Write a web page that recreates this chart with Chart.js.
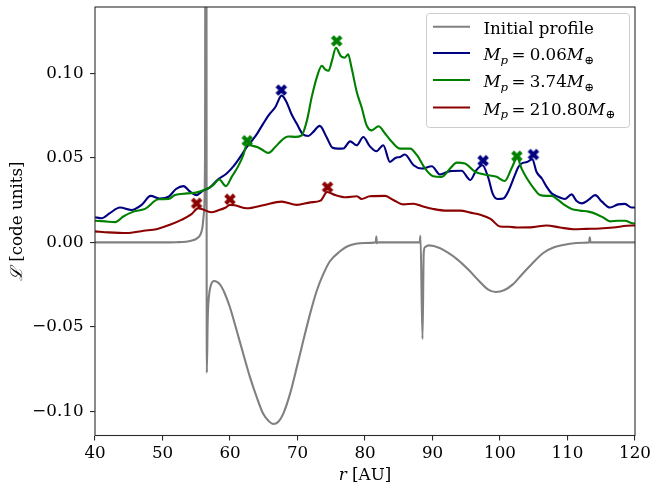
<!DOCTYPE html>
<html>
<head>
<meta charset="utf-8">
<script src="https://cdn.jsdelivr.net/npm/chart.js@4.4.1/dist/chart.umd.min.js"></script>
<style>
  html, body { margin: 0; padding: 0; background: #ffffff; }
  #wrap { width: 652px; height: 489px; }
</style>
</head>
<body>
<div id="wrap"><canvas id="chartL" width="652" height="489"></canvas></div>
<script>
// =========================
// DATA
// =========================
const xTicks = [40, 50, 60, 70, 80, 90, 100, 110, 120];
const yTicks = [-0.10, -0.05, 0.00, 0.05, 0.10];

// initial profile
const initR = [40, 50, 52, 53.5, 54.5, 55.1, 55.6, 55.9, 56.15, 56.3, 56.4, 56.48, 56.56, 56.7, 56.86,
  57.13, 57.66, 58.5, 59.2, 60.0, 61.0, 61.97, 62.96, 63.95, 64.9, 65.7, 66.4, 67.16, 67.9,
  68.9, 69.9, 70.86, 71.85, 72.84, 73.8, 74.8, 76.3, 77.5, 79.93, 81.6, 81.68, 81.76, 82, 88.1, 88.22,
  88.52, 88.7, 88.9, 89.47, 91.06, 92.12, 93.71, 95.3, 96.9, 98.2, 99.4, 100.6, 101.9, 103.25,
  104.85, 106.4, 108, 110.1, 112.3, 113.2, 113.3, 113.4, 120];
const initL = [0, 0, 0.0001, 0.0004, 0.0012, 0.0024, 0.0045, 0.0084, 0.018, 0.05, 0.4, 0.4, -0.0773, -0.045, -0.0327,
  -0.0259, -0.0229, -0.0249, -0.030, -0.0386, -0.0524, -0.0661, -0.0798, -0.0916, -0.1014, -0.1057, -0.1076, -0.1063, -0.1014,
  -0.0896, -0.0739, -0.0582, -0.0425, -0.0288, -0.019, -0.0112, -0.0053, -0.0022, -0.0004, 0, 0.0035, -0.0005, 0, 0, 0.0039,
  -0.0573, -0.006, -0.0028, -0.0018, -0.0033, -0.0057, -0.0102, -0.0161, -0.0229, -0.0278, -0.0294, -0.0284, -0.0249, -0.019,
  -0.0122, -0.0063, -0.0029, -0.001, -0.0002, 0, 0.003, 0, 0];

// M_p = 0.06
const lowR = [40, 41, 42.2, 43.7, 45.4, 46.9, 48.25, 49.6, 50.9, 52, 53.1, 54.1, 55, 56, 57, 58.2, 59.5,
  60.5, 61.5, 62.5, 63.2, 64, 64.9, 65.8, 66.7, 67.65, 68.4, 69.1, 69.9, 70.8, 71.6, 72.3, 73.3, 74.3,
  75.2, 76, 76.8, 77.8, 78.75, 79.75, 80.7, 81.7, 82.7, 83.7, 84.5, 85.2, 85.9, 87.2, 88.4, 89.9,
  91.1, 92.6, 94.3, 95.6, 96.5, 97.4, 98.3, 98.9, 99.6, 100.5, 101.2, 102.2, 102.7,
  103.2, 104, 104.8, 105.4, 106.2, 106.9, 107.65, 108.6, 109.6, 110.6, 111.35, 112.1, 113.1, 114.1,
  115.1, 116.3, 117.5, 118.5, 119.5, 120];
const lowL = [0.0149, 0.0143, 0.0173, 0.0206, 0.0192, 0.0222, 0.0275, 0.026, 0.027, 0.0316, 0.0333, 0.030, 0.028, 0.0306, 0.0324, 0.0372, 0.0408,
  0.0450, 0.0505, 0.0565, 0.0600, 0.0643, 0.0702, 0.0757, 0.080, 0.0869, 0.0829, 0.076, 0.0702, 0.0640, 0.0630, 0.0653, 0.0690, 0.0624,
  0.0560, 0.0555, 0.0556, 0.0598, 0.0575, 0.0624, 0.0570, 0.054, 0.0575, 0.0476, 0.0500, 0.0506, 0.052, 0.0457, 0.0437, 0.0451,
  0.0402, 0.0422, 0.0424, 0.0369, 0.0428, 0.0457, 0.0378, 0.029, 0.0257, 0.026, 0.030, 0.0398, 0.0445,
  0.0467, 0.0476, 0.0492, 0.0418, 0.0378, 0.033, 0.029, 0.027, 0.0257, 0.0284, 0.0245, 0.0231, 0.0251, 0.028,
  0.0241, 0.0206, 0.0225, 0.0228, 0.0206, 0.0206];

// M_p = 3.74
const midR = [40, 41.5, 43, 44.2, 45.7, 47.4, 49.4, 50.9, 51.85, 53.6, 55.1, 56.5, 57.5, 58.4, 59.4, 60.25,
  61.2, 62, 62.5, 63.3, 64, 64.7, 65.7, 66.7, 67.65, 68.6, 69.6, 70.6, 71.4, 72.1, 72.85, 73.6, 74.1,
  74.6, 75.1, 75.7, 76.4, 77, 77.5, 78, 78.8, 79.5, 80.25, 81, 82, 83, 84, 85.2, 86.7, 87.7,
  88.9, 90.1, 91.35, 92.6, 93.6, 94.8, 96.3, 98.3, 99.5, 100.7, 101.7, 102.55, 103.2,
  104, 105, 105.9, 106.9, 107.65, 108.6, 109.6, 110.6, 111.85, 113.1, 114.3, 115.3, 116.3, 117.5,
  118.5, 119.5, 120];
const midL = [0.0128, 0.0124, 0.012, 0.0153, 0.0182, 0.0198, 0.0255, 0.0257, 0.028, 0.029, 0.0296, 0.0316, 0.0339, 0.0372, 0.0333, 0.0388,
  0.0450, 0.0520, 0.0580, 0.0572, 0.0565, 0.055, 0.053, 0.0565, 0.0604, 0.0627, 0.0625, 0.0633, 0.0722, 0.0859, 0.0976, 0.1045, 0.1025,
  0.1016, 0.1075, 0.1153, 0.1104, 0.1094, 0.1114, 0.1035, 0.0888, 0.080, 0.0692, 0.0663, 0.0688, 0.0643, 0.0594, 0.0555, 0.0555, 0.0516,
  0.0437, 0.0392, 0.0388, 0.0437, 0.0472, 0.0467, 0.0418, 0.0398, 0.0388, 0.0363, 0.0437, 0.0500, 0.0437,
  0.0378, 0.032, 0.028, 0.0275, 0.0275, 0.0251, 0.022, 0.0198, 0.0188, 0.0182, 0.0167, 0.0147, 0.0124, 0.0128,
  0.0128, 0.0114, 0.011];

// M_p = 210.80
const highR = [40, 42, 44.7, 47.2, 49.1, 51.1, 52.8, 54.3, 55.3, 55.8, 57.2, 58.3, 59.3, 60, 60.7, 62.5,
  64.9, 67.65, 69.9, 71.9, 73.4, 74.4, 75.6, 77.15, 78.8, 79.5, 80.7, 83, 84.2, 85.7, 87.2, 88.6, 90.1,
  92.1, 94.1, 95.6, 97.1, 98.6, 100, 101.3, 102.5, 104.9, 106.9, 108.9, 110.9, 112.8, 114.8, 116.8,
  118.8, 120];
const highL = [0.0065, 0.0059, 0.0055, 0.0069, 0.0078, 0.0104, 0.0133, 0.0167, 0.0203, 0.0198, 0.0178, 0.019, 0.0205, 0.0222, 0.022, 0.0202,
  0.022, 0.0241, 0.0222, 0.0237, 0.0247, 0.0298, 0.028, 0.0267, 0.0273, 0.0257, 0.0273, 0.0275, 0.0251, 0.0225, 0.0229, 0.0212, 0.0198,
  0.0188, 0.0188, 0.0176, 0.0163, 0.0139, 0.0094, 0.0092, 0.0088, 0.009, 0.010, 0.0088, 0.0078, 0.008, 0.0082, 0.0088,
  0.0098, 0.010];

// peak positions
const lowPeakR = [67.6, 97.5, 104.95];
const lowPeakL = [0.0902, 0.0484, 0.0520];
const midPeakR = [62.55, 75.8, 102.5];
const midPeakL = [0.0602, 0.1193, 0.0510];
const highPeakR = [55.05, 60.0, 74.45];
const highPeakL = [0.0231, 0.0255, 0.0327];

const legendMasses = ["0.06", "3.74", "210.80"];

const GRAY = "#808080";
const BLUE = "#000080";
const GREEN = "#008000";
const RED = "#8b0000";
const FONT = '"DejaVu Serif", "Liberation Serif", serif';

// =========================
// HELPERS
// =========================
function points(xs, ys) {
    return xs.map(function (x, i) { return { x: x, y: ys[i] }; });
}

function lineSet(label, xs, ys, color, order) {
    return {
        label: label,
        data: points(xs, ys),
        showLine: true,
        borderColor: color,
        backgroundColor: color,
        borderWidth: 2.1,
        pointRadius: 0,
        cubicInterpolationMode: "monotone",
        order: order
    };
}

// filled "X" marker
function xMarker(color) {
    const s = 14;
    const c = document.createElement("canvas");
    c.width = s; c.height = s;
    const g = c.getContext("2d");
    g.translate(s / 2, s / 2);
    g.rotate(Math.PI / 4);
    const h = 5.6, w = 1.6;
    g.beginPath();
    g.moveTo(-w, -h); g.lineTo(w, -h); g.lineTo(w, -w); g.lineTo(h, -w);
    g.lineTo(h, w); g.lineTo(w, w); g.lineTo(w, h); g.lineTo(-w, h);
    g.lineTo(-w, w); g.lineTo(-h, w); g.lineTo(-h, -w); g.lineTo(-w, -w);
    g.closePath();
    g.fillStyle = color;
    g.fill();
    g.lineWidth = 1;
    g.strokeStyle = color;
    g.stroke();
    return c;
}

function markerSet(xs, ys, color, order) {
    return {
        data: points(xs, ys),
        showLine: false,
        pointStyle: xMarker(color),
        pointRadius: 6,
        order: order
    };
}

// draws M_p = <mass> M_⊕ as math-style text
function drawMass(ctx, x, y, mass) {
    const big = 'italic 16.7px ' + FONT;
    const small = 'italic 11.7px ' + FONT;
    const roman = '16.7px ' + FONT;
    ctx.font = big; ctx.fillText("M", x, y); x += ctx.measureText("M").width;
    ctx.font = small; ctx.fillText("p", x, y + 3.5); x += ctx.measureText("p").width + 3.4;
    ctx.font = roman; ctx.fillText("=", x, y); x += ctx.measureText("=").width + 4.2;
    ctx.fillText(mass, x, y); x += ctx.measureText(mass).width;
    ctx.font = big; ctx.fillText("M", x, y); x += ctx.measureText("M").width + 0.5;
    ctx.font = '11.7px ' + FONT; ctx.fillText("\u2295", x, y + 3.5);
}

// no automatic padding from tick labels: the plot box is fixed
function noPadding(s) {
    s.paddingLeft = 0;
    s.paddingRight = 0;
    s.paddingTop = 0;
    s.paddingBottom = 0;
}

// =========================
// FRAME, TITLES, LEGEND
// =========================
const decorPlugin = {
    id: "decor",
    afterDatasetsDraw: function (chart) {
        const a = chart.chartArea;
        const ctx = chart.ctx;
        ctx.save();
        ctx.strokeStyle = "#2b2b2b";
        ctx.lineWidth = 1.1;
        ctx.strokeRect(a.left, a.top, a.right - a.left, a.bottom - a.top);
        ctx.restore();
    },
    afterDraw: function (chart) {
        const ctx = chart.ctx;
        const a = chart.chartArea;
        ctx.save();
        ctx.fillStyle = "#000";
        ctx.textBaseline = "alphabetic";

        // x title: r [AU]
        ctx.font = 'italic 16.7px ' + FONT;
        const wr = ctx.measureText("r").width;
        ctx.font = '16.7px ' + FONT;
        const wu = ctx.measureText(" [AU]").width;
        let tx = (a.left + a.right) / 2 - (wr + wu) / 2;
        ctx.font = 'italic 16.7px ' + FONT;
        ctx.fillText("r", tx, 479.5);
        ctx.font = '16.7px ' + FONT;
        ctx.fillText(" [AU]", tx + wr, 479.5);

        // y title: L [code units]
        ctx.save();
        ctx.translate(21.5, (a.top + a.bottom) / 2);
        ctx.rotate(-Math.PI / 2);
        ctx.font = 'italic 16.7px ' + FONT;
        const wl = ctx.measureText("\u2112").width;
        ctx.font = '16.7px ' + FONT;
        const wc = ctx.measureText(" [code units]").width;
        ctx.font = 'italic 16.7px ' + FONT;
        ctx.fillText("\u2112", -(wl + wc) / 2, 0);
        ctx.font = '16.7px ' + FONT;
        ctx.fillText(" [code units]", -(wl + wc) / 2 + wl, 0);
        ctx.restore();

        // legend box
        const bx = 426.5, by = 13.5, bw = 203, bh = 114, r = 3;
        ctx.beginPath();
        ctx.moveTo(bx + r, by);
        ctx.arcTo(bx + bw, by, bx + bw, by + bh, r);
        ctx.arcTo(bx + bw, by + bh, bx, by + bh, r);
        ctx.arcTo(bx, by + bh, bx, by, r);
        ctx.arcTo(bx, by, bx + bw, by, r);
        ctx.closePath();
        ctx.fillStyle = "rgba(255,255,255,0.8)";
        ctx.fill();
        ctx.strokeStyle = "#cccccc";
        ctx.lineWidth = 1;
        ctx.stroke();

        const rows = [26.7, 53, 80, 107.5];
        const colors = [GRAY, BLUE, GREEN, RED];
        rows.forEach(function (ry, i) {
            ctx.strokeStyle = colors[i];
            ctx.lineWidth = 2.1;
            ctx.beginPath();
            ctx.moveTo(433, ry);
            ctx.lineTo(470, ry);
            ctx.stroke();
            ctx.fillStyle = "#000";
            if (i === 0) {
                ctx.font = '16.7px ' + FONT;
                ctx.fillText("Initial profile", 483.5, ry + 7.3);
            } else {
                drawMass(ctx, 483.5, ry + 7.3, legendMasses[i - 1]);
            }
        });
        ctx.restore();
    }
};

// =========================
// CHART
// =========================
document.addEventListener("DOMContentLoaded", function () {

    const ctx = document.getElementById("chartL");

    new Chart(ctx, {

        type: "scatter",

        data: {
            datasets: [
                markerSet(highPeakR, highPeakL, RED, 0),
                lineSet("high", highR, highL, RED, 1),
                markerSet(midPeakR, midPeakL, GREEN, 2),
                lineSet("mid", midR, midL, GREEN, 3),
                markerSet(lowPeakR, lowPeakL, BLUE, 4),
                lineSet("low", lowR, lowL, BLUE, 5),
                lineSet("initial", initR, initL, GRAY, 6)
            ]
        },

        options: {
            responsive: false,
            animation: false,
            devicePixelRatio: 1,
            layout: {
                padding: { left: 0, right: 17, top: 4, bottom: 0 }
            },
            plugins: {
                legend: { display: false },
                tooltip: { enabled: false }
            },
            scales: {
                x: {
                    type: "linear",
                    min: 40,
                    max: 120,
                    afterBuildTicks: function (s) {
                        s.ticks = xTicks.map(function (v) { return { value: v }; });
                    },
                    afterFit: function (s) { s.height = 53.5; noPadding(s); },
                    grid: {
                        drawOnChartArea: false,
                        drawTicks: true,
                        tickLength: 5,
                        color: "#2b2b2b",
                        lineWidth: 1.1
                    },
                    border: { display: false },
                    ticks: {
                        padding: 3,
                        color: "#000",
                        maxRotation: 0,
                        font: { family: FONT, size: 16.7 },
                        callback: function (v) { return String(v); }
                    }
                },
                y: {
                    type: "linear",
                    min: -0.1144,
                    max: 0.1394,
                    afterBuildTicks: function (s) {
                        s.ticks = yTicks.map(function (v) { return { value: v }; });
                    },
                    afterFit: function (s) { s.width = 95; noPadding(s); },
                    grid: {
                        drawOnChartArea: false,
                        drawTicks: true,
                        tickLength: 5,
                        color: "#2b2b2b",
                        lineWidth: 1.1
                    },
                    border: { display: false },
                    ticks: {
                        padding: 6.5,
                        color: "#000",
                        font: { family: FONT, size: 16.7 },
                        callback: function (v) {
                            const t = Math.abs(v).toFixed(2);
                            return v < -1e-9 ? "\u2212" + t : t;
                        }
                    }
                }
            }
        },

        plugins: [decorPlugin]

    });

});
</script>
</body>
</html>
